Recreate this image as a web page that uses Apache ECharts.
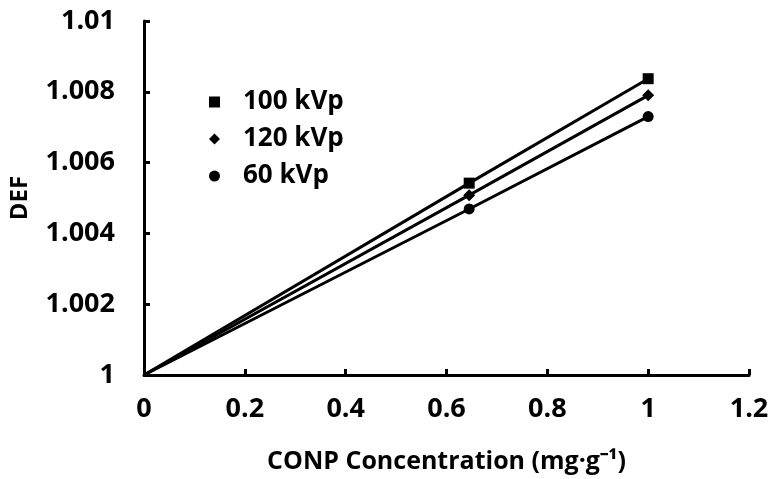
<!DOCTYPE html>
<html>
<head>
<meta charset="utf-8">
<script src="https://cdn.jsdelivr.net/npm/echarts@6/dist/echarts.min.js"></script>
<style>
html,body{margin:0;padding:0;background:#fff;}
#c{width:775px;height:479px;}
</style>
</head>
<body>
<div id="c"></div>
<script>
// Data
var concentrations = [0, 0.645, 1];
var def100 = [1, 1.00542, 1.00837];
var def120 = [1, 1.00508, 1.00790];
var def60  = [1, 1.00469, 1.00730];
var seriesNames = ['100 kVp', '120 kVp', '60 kVp'];
var seriesSymbols = ['rect', 'diamond', 'circle'];
var xTicks = [0, 0.2, 0.4, 0.6, 0.8, 1, 1.2];
var yTicks = [1, 1.002, 1.004, 1.006, 1.008, 1.01];

var FONT = 'Open Sans';
function pairs(xs, ys) { return xs.map(function (x, i) { return [x, ys[i]]; }); }
var allDefs = [def100, def120, def60];
var symbolSizes = [11, 12, 11];

var series = [];
allDefs.forEach(function (d, k) {
  series.push({
    type: 'line',
    data: pairs(concentrations, d),
    symbol: 'none',
    lineStyle: { color: '#000', width: 3 },
    silent: true,
    z: 2
  });
});
allDefs.forEach(function (d, k) {
  series.push({
    name: seriesNames[k],
    type: 'scatter',
    data: pairs(concentrations.slice(1), d.slice(1)),
    symbol: seriesSymbols[k],
    symbolSize: symbolSizes[k],
    itemStyle: { color: '#000', opacity: 1 },
    z: 3
  });
});

var chart = echarts.init(document.getElementById('c'), null, { renderer: 'canvas' });
chart.setOption({
  animation: false,
  backgroundColor: '#fff',
  grid: { left: 141, right: 26, top: 21, bottom: 102, containLabel: false },
  legend: {
    orient: 'vertical',
    left: 204,
    top: 84,
    itemWidth: 11,
    itemHeight: 11,
    itemGap: 11,
    data: seriesNames.map(function (n, k) { return { name: n, icon: seriesSymbols[k], itemStyle: { color: '#000', opacity: 1 } }; }),
    textStyle: { fontFamily: FONT, fontWeight: 'bold', fontSize: 26, color: '#000', padding: [0, 0, 0, 18] }
  },
  xAxis: {
    type: 'value',
    min: 0, max: 1.2, interval: 0.2,
    name: 'CONP Concentration (mg·g⁻¹)',
    nameLocation: 'middle',
    nameGap: 74,
    nameTextStyle: { fontFamily: FONT, fontWeight: 'bold', fontSize: 25, color: '#000' },
    axisLine: { lineStyle: { color: '#000', width: 3 } },
    axisTick: { inside: true, length: 6, lineStyle: { color: '#000', width: 3 } },
    splitLine: { show: false },
    axisLabel: {
      margin: 21,
      fontFamily: FONT, fontWeight: 'bold', fontSize: 27, color: '#000',
      formatter: function (v) { return String(+v.toFixed(1)); }
    }
  },
  yAxis: {
    type: 'value',
    min: 1, max: 1.01, interval: 0.002,
    name: 'DEF',
    nameLocation: 'middle',
    nameGap: 112,
    nameRotate: 90,
    nameTextStyle: { fontFamily: FONT, fontWeight: 'bold', fontSize: 24, color: '#000' },
    axisLine: { show: true, lineStyle: { color: '#000', width: 3 } },
    axisTick: { show: true, inside: true, length: 6, lineStyle: { color: '#000', width: 3 } },
    splitLine: { show: false },
    axisLabel: {
      margin: 29,
      fontFamily: FONT, fontWeight: 'bold', fontSize: 27, color: '#000',
      formatter: function (v) { return String(+v.toFixed(3)); }
    }
  },
  series: series
});
</script>
</body>
</html>
